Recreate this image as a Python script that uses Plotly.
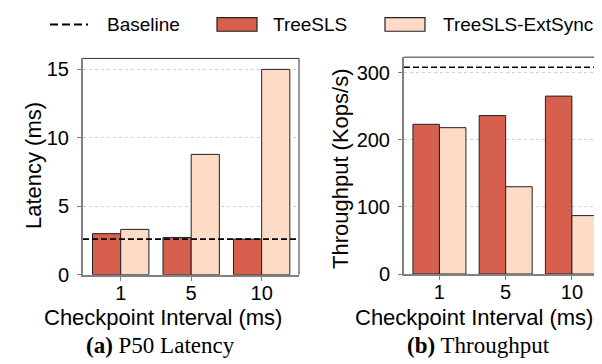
import plotly.graph_objects as go

categories = ["1", "5", "10"]
latency_treesls = [3.0, 2.72, 2.6]
latency_extsync = [3.31, 8.79, 15.0]
latency_baseline = 2.6
throughput_treesls = [223, 236, 265]
throughput_extsync = [218, 130, 87]
throughput_baseline = 308
series_names = ["Baseline", "TreeSLS", "TreeSLS-ExtSync"]

W, H = 602, 364
RED = "#d6604d"
PEACH = "#fddbc7"
EDGE = "#222222"
SPINE = "#808080"
SANS = "Liberation Sans"

def px(x):
    return x / W

def py(y):
    return 1 - y / H

fig = go.Figure()

fig.add_trace(go.Bar(x=categories, y=latency_treesls, name=series_names[1],
                     marker=dict(color=RED, line=dict(color=EDGE, width=1)),
                     xaxis="x", yaxis="y", showlegend=False))
fig.add_trace(go.Bar(x=categories, y=latency_extsync, name=series_names[2],
                     marker=dict(color=PEACH, line=dict(color=EDGE, width=1)),
                     xaxis="x", yaxis="y", showlegend=False))
fig.add_trace(go.Bar(x=categories, y=throughput_treesls, name=series_names[1],
                     marker=dict(color=RED, line=dict(color=EDGE, width=1)),
                     xaxis="x2", yaxis="y2", showlegend=False))
fig.add_trace(go.Bar(x=categories, y=throughput_extsync, name=series_names[2],
                     marker=dict(color=PEACH, line=dict(color=EDGE, width=1)),
                     xaxis="x2", yaxis="y2", showlegend=False))

font = dict(family=SANS, size=20, color="black")

def xax(domain):
    return dict(domain=domain, type="category", showline=True, linecolor=SPINE, linewidth=2,
                ticks="outside", ticklen=4, tickcolor=SPINE, tickwidth=1, ticklabelstandoff=-5,
                tickfont=font, showgrid=False, zeroline=False, range=[-0.535, 2.53])

def yax(domain, rng, dtick, anchor):
    return dict(domain=domain, range=rng, dtick=dtick, showline=True, linecolor=SPINE, linewidth=2,
                ticks="outside", ticklen=4, tickcolor=SPINE, tickwidth=1, tickfont=font,
                ticklabelstandoff=4,
                showgrid=True, gridcolor="#cfcfcf", griddash="dot", gridwidth=1,
                zeroline=False, anchor=anchor)

fig.update_layout(
    width=W, height=H, margin=dict(l=0, r=0, t=0, b=0),
    paper_bgcolor="white", plot_bgcolor="white",
    barmode="group", bargap=0.2, bargroupgap=0,
    showlegend=False,
    xaxis=dict(**xax([px(75), px(291)]), anchor="y"),
    yaxis=yax([py(275), py(52)], [0, 15.8], 5, "x"),
    xaxis2=dict(**xax([px(396), px(599)]), anchor="y2"),
    yaxis2=yax([py(274.3), py(50.7)], [0, 323], 100, "x2"),
    font=font,
)

shapes = []
for xa, ya in (("x", "y"), ("x2", "y2")):
    shapes.append(dict(type="line", xref=f"{xa} domain", yref=f"{ya} domain",
                       x0=0, x1=1, y0=1, y1=1, line=dict(color="#333333", width=1)))
    shapes.append(dict(type="line", xref=f"{xa} domain", yref=f"{ya} domain",
                       x0=1, x1=1, y0=0, y1=1, line=dict(color="#333333", width=1)))
shapes.append(dict(type="line", xref="x domain", yref="y", x0=0, x1=1,
                   y0=latency_baseline, y1=latency_baseline,
                   line=dict(color="black", width=1.6, dash="6px,3px")))
shapes.append(dict(type="line", xref="x2 domain", yref="y2", x0=0, x1=1,
                   y0=throughput_baseline, y1=throughput_baseline,
                   line=dict(color="black", width=1.6, dash="6px,3px")))
# legend
shapes.append(dict(type="line", xref="paper", yref="paper", x0=px(42), x1=px(80),
                   y0=py(17), y1=py(17), line=dict(color="black", width=2, dash="8px,4px")))
shapes.append(dict(type="rect", xref="paper", yref="paper", x0=px(209), x1=px(249),
                   y0=py(24), y1=py(10), fillcolor=RED, line=dict(color=EDGE, width=1.2)))
shapes.append(dict(type="rect", xref="paper", yref="paper", x0=px(377), x1=px(417),
                   y0=py(24), y1=py(10), fillcolor=PEACH, line=dict(color=EDGE, width=1.2)))

leg_font = dict(family=SANS, size=19, color="black")
ann = []
for x, t in ((97, series_names[0]), (263, series_names[1]), (433, series_names[2])):
    ann.append(dict(x=px(x), y=py(17), xref="paper", yref="paper", text=t, showarrow=False,
                    xanchor="left", yanchor="middle", font=leg_font))

lab_font = dict(family=SANS, size=22, color="black")
ann.append(dict(x=px(155), y=py(319), xref="paper", yref="paper", text="Checkpoint Interval (ms)",
                showarrow=False, xanchor="center", yanchor="middle", font=lab_font))
ann.append(dict(x=px(466), y=py(319), xref="paper", yref="paper", text="Checkpoint Interval (ms)",
                showarrow=False, xanchor="center", yanchor="middle", font=lab_font))
ann.append(dict(x=px(25), y=py(163), xref="paper", yref="paper", text="Latency (ms)",
                showarrow=False, xanchor="center", yanchor="middle", textangle=-90, font=lab_font))
ann.append(dict(x=px(332), y=py(165), xref="paper", yref="paper", text="Throughput (Kops/s)",
                showarrow=False, xanchor="center", yanchor="middle", textangle=-90, font=lab_font))

cap_font = dict(family="Liberation Serif", size=23, color="black")
ann.append(dict(x=px(152), y=py(348), xref="paper", yref="paper", text="<b>(a)</b> P50 Latency",
                showarrow=False, xanchor="center", yanchor="middle", font=cap_font))
ann.append(dict(x=px(470), y=py(348), xref="paper", yref="paper", text="<b>(b)</b> Throughput",
                showarrow=False, xanchor="center", yanchor="middle", font=cap_font))

fig.update_layout(shapes=shapes, annotations=ann)
fig.write_html("out.html")
